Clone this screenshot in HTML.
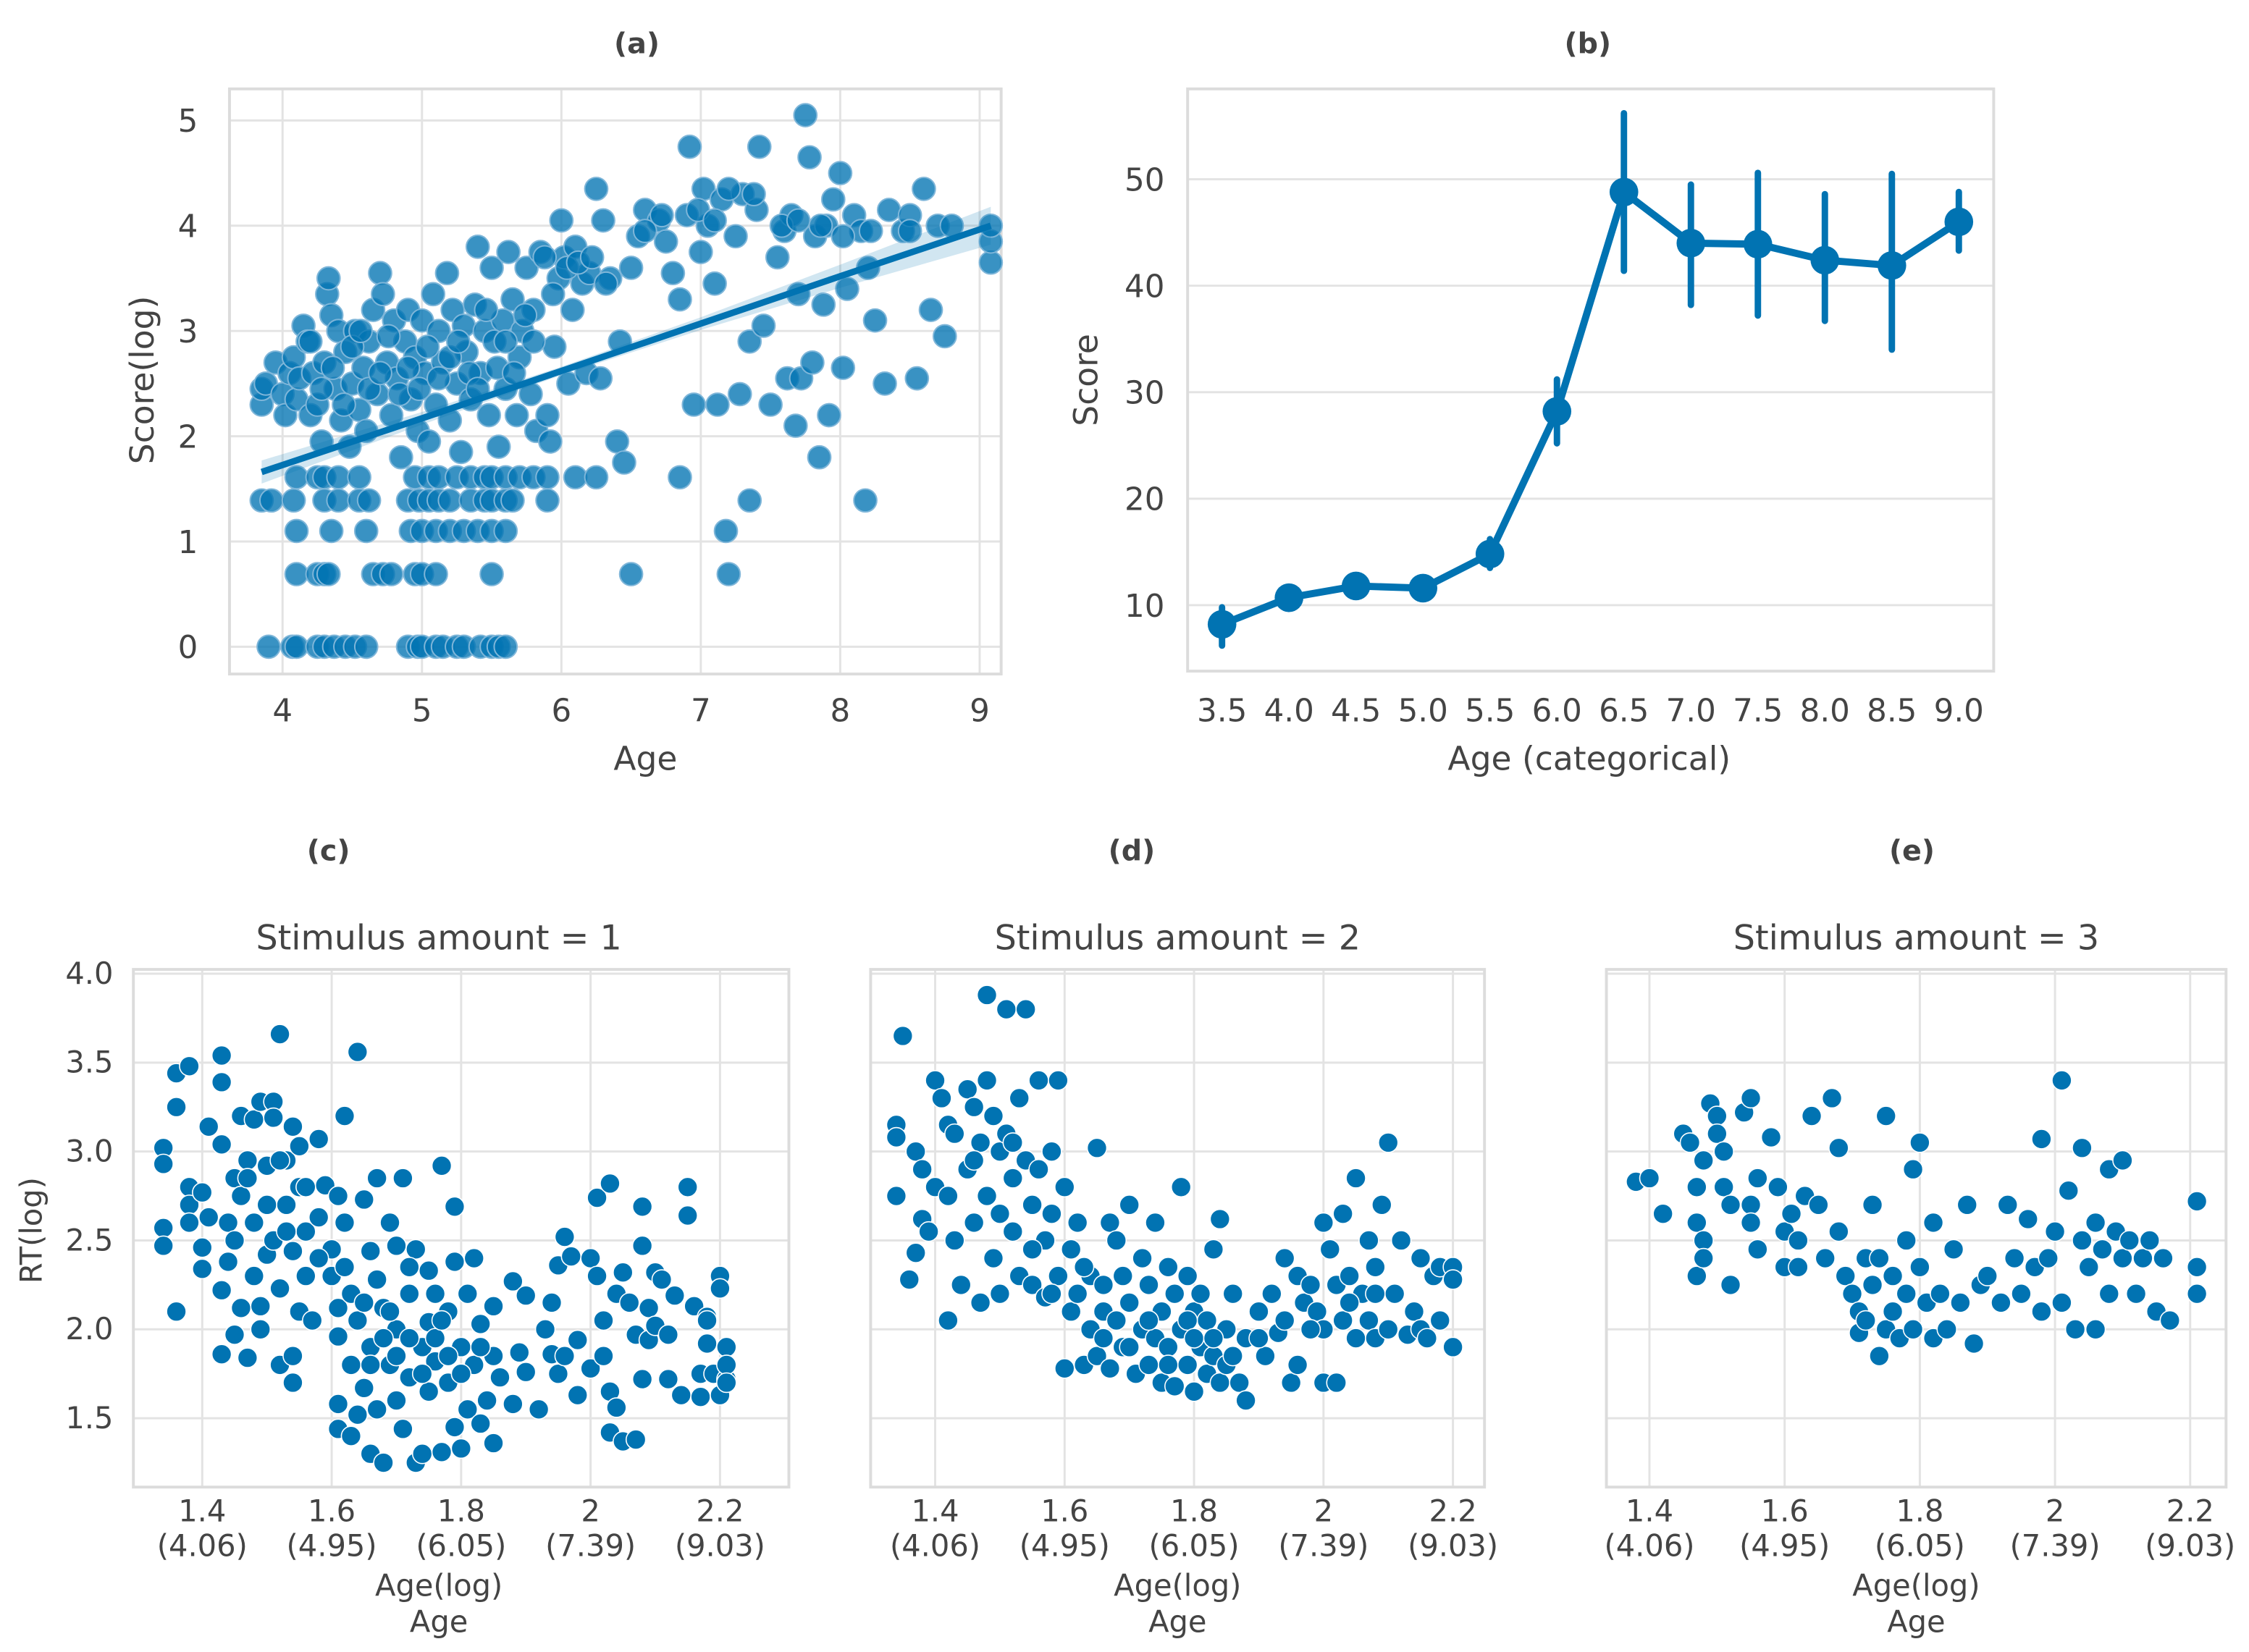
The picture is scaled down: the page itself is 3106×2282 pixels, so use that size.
<!DOCTYPE html>
<html><head><meta charset="utf-8"><style>
html,body{margin:0;padding:0;background:#fff;}
svg{display:block;}
text{font-family:"DejaVu Sans","Liberation Sans",sans-serif;fill:#444;}
</style></head><body>
<svg id="fig" xmlns="http://www.w3.org/2000/svg" width="3106" height="2282" viewBox="0 0 1568 1152" preserveAspectRatio="none"></svg>
<script>
// ---------- data ----------
const aPts=[3.9,0,4.07,0,4.1,0,4.25,0,4.3,0,4.37,0,4.45,0,4.52,0,4.6,0,4.9,0,4.97,0,5.0,0,5.1,0,5.15,0,5.25,0,5.3,0,5.42,0,5.5,0,5.55,0,5.6,0,
4.1,0.69,4.25,0.69,4.3,0.69,4.33,0.69,4.65,0.69,4.72,0.69,4.78,0.69,4.95,0.69,5.0,0.69,5.1,0.69,5.5,0.69,6.5,0.69,7.2,0.69,
4.1,1.1,4.35,1.1,4.6,1.1,4.92,1.1,5.0,1.1,5.1,1.1,5.2,1.1,5.3,1.1,5.4,1.1,5.5,1.1,5.6,1.1,7.18,1.1,
3.85,1.39,3.92,1.39,4.08,1.39,4.3,1.39,4.4,1.39,4.55,1.39,4.62,1.39,4.9,1.39,4.98,1.39,5.05,1.39,5.12,1.39,5.2,1.39,5.35,1.39,5.45,1.39,5.5,1.39,5.6,1.39,5.65,1.39,5.9,1.39,7.35,1.39,8.18,1.39,
4.1,1.61,4.25,1.61,4.3,1.61,4.4,1.61,4.55,1.61,4.95,1.61,5.05,1.61,5.12,1.61,5.25,1.61,5.35,1.61,5.45,1.61,5.5,1.61,5.6,1.61,5.7,1.61,5.8,1.61,5.9,1.61,6.1,1.61,6.25,1.61,6.85,1.61,
3.85,2.3,3.85,2.45,3.88,2.5,3.95,2.7,4.0,2.4,4.02,2.2,4.05,2.6,4.08,2.75,4.1,2.35,4.12,2.55,4.15,3.05,4.18,2.9,4.2,2.2,4.22,2.6,4.25,2.3,4.28,1.95,4.3,2.7,4.32,3.35,4.33,3.5,4.35,3.15,4.38,2.45,4.4,3.0,4.42,2.15,4.45,2.8,4.48,1.9,4.5,2.5,4.52,3.0,4.55,2.25,4.58,2.65,4.6,2.05,4.62,2.9,4.65,3.2,4.68,2.4,4.7,3.55,4.72,3.35,4.75,2.7,4.78,2.2,4.8,3.1,4.82,2.55,4.85,1.8,4.88,2.9,4.9,3.2,4.92,2.35,4.95,2.75,4.97,2.05,5.0,3.1,5.02,2.6,5.05,1.95,5.08,3.35,5.1,2.3,5.12,3.0,5.15,2.7,5.18,3.55,5.2,2.15,5.22,3.2,5.25,2.5,5.28,1.85,5.3,3.05,5.32,2.8,5.35,2.35,5.38,3.25,5.4,3.8,5.42,2.6,5.45,3.0,5.48,2.2,5.5,3.6,5.52,2.9,5.55,1.9,5.58,3.1,5.6,2.45,5.62,3.75,5.65,3.3,5.68,2.2,5.7,2.75,5.72,3.0,5.75,3.6,5.78,2.4,5.8,3.2,5.82,2.05,5.85,3.75,5.9,2.2,5.92,1.95,5.95,2.85,5.98,3.5,6.0,4.05,6.02,3.7,6.05,2.5,6.08,3.2,6.1,3.8,6.15,3.45,6.18,2.6,6.2,3.55,6.25,4.35,6.28,2.55,6.3,4.05,6.35,3.5,6.4,1.95,6.42,2.9,6.45,1.75,6.5,3.6,6.55,3.9,6.6,4.15,6.7,4.05,6.75,3.85,6.8,3.55,6.85,3.3,6.9,4.1,6.92,4.75,6.95,2.3,7.0,3.75,7.02,4.35,7.05,4.0,7.1,3.45,7.12,2.3,7.15,4.25,7.25,3.9,7.28,2.4,7.3,4.3,7.35,2.9,7.4,4.15,7.42,4.75,7.45,3.05,7.5,2.3,7.55,3.7,7.6,3.95,7.62,2.55,7.65,4.1,7.68,2.1,7.7,3.35,7.72,2.55,7.75,5.05,7.78,4.65,7.8,2.7,7.82,3.9,7.85,1.8,7.88,3.25,7.9,4.0,7.92,2.2,7.95,4.25,8.0,4.5,8.02,2.65,8.05,3.4,8.1,4.1,8.15,3.95,8.2,3.6,8.25,3.1,8.32,2.5,8.35,4.15,8.45,3.95,8.5,4.1,8.55,2.55,8.6,4.35,8.65,3.2,8.7,4.0,8.75,2.95,8.8,4.0,9.08,3.65,9.08,3.85,9.08,4.0,
4.2,2.9,4.28,2.45,4.36,2.65,4.44,2.3,4.5,2.85,4.56,3.0,4.62,2.45,4.7,2.6,4.76,2.95,4.84,2.4,4.9,2.65,4.98,2.45,5.04,2.85,5.12,2.55,5.2,2.75,5.26,2.9,5.34,2.6,5.4,2.45,5.46,3.2,5.54,2.65,5.6,2.9,5.66,2.6,5.74,3.15,5.8,2.9,5.88,3.7,5.94,3.35,6.04,3.6,6.12,3.65,6.22,3.7,6.32,3.45,6.6,3.95,6.72,4.1,6.98,4.15,7.1,4.05,7.2,4.35,7.38,4.3,7.58,4.0,7.7,4.05,7.86,4.0,8.02,3.9,8.22,3.95,8.5,3.95];
const regX=[3.85,5.0,6.0,7.0,8.0,9.08];
const regY=[1.66,2.17,2.62,3.07,3.52,4.0];
const regLo=[1.55,2.11,2.58,3.01,3.41,3.82];
const regHi=[1.77,2.23,2.66,3.13,3.63,4.18];
const aXTicks=[4,5,6,7,8,9];
const aYTicks=[0,1,2,3,4,5];

const bCats=["3.5","4.0","4.5","5.0","5.5","6.0","6.5","7.0","7.5","8.0","8.5","9.0"];
const bMean=[8.2,10.7,11.8,11.6,14.8,28.2,48.8,44.0,43.9,42.4,41.9,46.0];
const bLo=[6.2,10.0,11.2,10.8,13.5,25.2,41.4,38.2,37.2,36.7,34.0,43.3];
const bHi=[9.8,11.3,12.4,12.4,16.2,31.2,56.2,49.5,50.6,48.6,50.5,48.8];
const bYTicks=[10,20,30,40,50];

const cPts=[1.34,3.02,1.34,2.93,1.34,2.57,1.34,2.47,1.36,3.44,1.36,3.25,1.36,2.1,1.38,3.48,1.38,2.8,1.38,2.7,1.38,2.6,1.4,2.77,1.4,2.46,1.4,2.34,1.41,3.14,1.41,2.63,1.43,3.54,1.43,3.39,1.43,3.04,1.43,2.22,1.43,1.86,1.44,2.6,1.44,2.38,1.45,2.85,1.45,2.5,1.45,1.97,1.46,3.2,1.46,2.75,1.46,2.12,1.47,2.95,1.47,1.84,1.48,3.18,1.48,2.6,1.48,2.3,1.49,3.28,1.49,2.0,1.49,2.13,1.5,2.92,1.5,2.42,1.51,3.28,1.51,3.19,1.51,2.5,1.52,3.66,1.52,2.23,1.52,1.8,1.53,2.95,1.53,2.7,1.54,3.14,1.54,2.44,1.54,1.85,1.54,1.7,1.55,3.03,1.55,2.8,1.55,2.1,1.56,2.55,1.56,2.3,1.57,2.05,1.58,3.07,1.58,2.63,1.59,2.81,1.6,2.45,1.6,2.3,1.61,2.75,1.61,2.12,1.61,1.96,1.61,1.58,1.61,1.44,1.62,3.2,1.62,2.6,1.63,2.2,1.63,1.8,1.63,1.4,1.64,3.56,1.64,2.05,1.64,1.52,1.65,2.73,1.65,1.67,1.66,2.44,1.66,1.9,1.66,1.3,1.67,2.85,1.67,2.28,1.67,1.55,1.68,2.12,1.68,1.25,1.69,2.6,1.69,1.8,1.7,2.47,1.7,2.0,1.7,1.6,1.71,2.85,1.71,1.44,1.72,2.2,1.72,1.73,1.73,1.25,1.73,2.45,1.74,1.9,1.74,1.3,1.75,2.33,1.75,2.04,1.75,1.65,1.76,2.2,1.76,1.82,1.77,2.92,1.77,1.31,1.78,2.1,1.78,1.7,1.79,2.69,1.79,2.38,1.79,1.45,1.8,1.9,1.8,1.33,1.81,2.2,1.81,1.55,1.82,2.4,1.82,1.8,1.83,2.03,1.83,1.47,1.84,1.6,1.85,2.13,1.85,1.85,1.85,1.36,1.86,1.73,1.88,1.58,1.88,2.27,1.89,1.87,1.9,1.76,1.9,2.19,1.92,1.55,1.93,2.0,1.94,1.86,1.94,2.15,1.95,2.36,1.95,1.75,1.96,2.52,1.96,1.85,1.97,2.41,1.98,1.63,1.98,1.94,2.0,2.4,2.0,1.78,2.01,2.74,2.01,2.3,2.02,2.05,2.02,1.85,2.03,2.82,2.03,1.65,2.03,1.42,2.04,2.2,2.04,1.56,2.05,2.32,2.05,1.37,2.06,2.15,2.07,1.97,2.07,1.38,2.08,2.69,2.08,2.47,2.08,1.72,2.09,2.12,2.09,1.94,2.1,2.32,2.1,2.02,2.11,2.28,2.12,1.72,2.12,1.97,2.13,2.19,2.14,1.63,2.15,2.8,2.15,2.64,2.16,2.13,2.17,1.75,2.17,1.62,2.18,2.07,2.19,1.75,2.2,2.3,2.2,2.23,2.2,1.63,2.21,1.72,2.18,2.05,2.18,1.92,2.21,1.9,2.21,1.8,2.21,1.7,
1.47,2.85,1.5,2.7,1.52,2.95,1.53,2.55,1.56,2.8,1.58,2.4,1.62,2.35,1.65,2.15,1.68,1.95,1.7,1.85,1.72,1.95,1.74,1.75,1.76,1.95,1.78,1.85,1.8,1.75,1.83,1.9,1.69,2.1,1.72,2.35,1.77,2.05,1.66,1.8];
const dPts=[1.34,3.15,1.34,3.08,1.34,2.75,1.35,3.65,1.36,2.28,1.37,3.0,1.37,2.43,1.38,2.62,1.38,2.9,1.39,2.55,1.4,2.8,1.4,3.4,1.41,3.3,1.42,3.15,1.42,2.75,1.42,2.05,1.43,3.1,1.43,2.5,1.44,2.25,1.45,3.35,1.45,2.9,1.46,3.25,1.46,2.6,1.47,3.05,1.47,2.15,1.48,3.88,1.48,3.4,1.48,2.75,1.49,3.2,1.49,2.4,1.5,3.0,1.5,2.2,1.51,3.8,1.51,3.1,1.52,2.85,1.52,2.55,1.53,3.3,1.53,2.3,1.54,2.95,1.54,3.8,1.55,2.7,1.55,2.25,1.56,3.4,1.56,2.9,1.57,2.5,1.57,2.18,1.58,3.0,1.58,2.65,1.59,3.4,1.59,2.3,1.6,2.8,1.6,1.78,1.61,2.45,1.61,2.1,1.62,2.6,1.62,2.2,1.63,1.8,1.64,2.3,1.64,2.0,1.65,3.02,1.65,1.85,1.66,2.25,1.66,2.1,1.67,2.6,1.67,1.78,1.68,2.05,1.68,2.5,1.69,2.3,1.69,1.9,1.7,2.7,1.7,2.15,1.71,1.75,1.72,2.0,1.72,2.4,1.73,2.25,1.73,1.8,1.74,2.6,1.74,1.95,1.75,2.1,1.75,1.7,1.76,2.35,1.76,1.9,1.77,2.2,1.77,1.68,1.78,2.8,1.78,2.0,1.79,1.8,1.79,2.3,1.8,2.1,1.8,1.65,1.81,1.9,1.81,2.2,1.82,2.05,1.82,1.75,1.83,2.45,1.83,1.85,1.84,2.62,1.84,1.7,1.85,2.0,1.85,1.8,1.86,2.2,1.87,1.7,1.88,1.6,1.88,1.95,1.9,2.1,1.91,1.85,1.92,2.2,1.93,1.98,1.94,2.4,1.94,2.05,1.95,1.7,1.96,2.3,1.96,1.8,1.97,2.15,1.98,2.25,1.99,2.1,2.0,2.6,2.0,2.0,2.0,1.7,2.01,2.45,2.02,2.25,2.02,1.7,2.03,2.65,2.03,2.05,2.04,2.3,2.05,2.85,2.05,1.95,2.06,2.2,2.07,2.5,2.07,2.05,2.08,2.35,2.08,1.95,2.09,2.7,2.1,3.05,2.1,2.0,2.11,2.2,2.12,2.5,2.13,1.97,2.14,2.1,2.15,2.4,2.15,2.0,2.16,1.95,2.17,2.3,2.18,2.35,2.18,2.05,2.2,2.35,2.2,2.28,2.2,1.9,
1.46,2.95,1.5,2.65,1.52,3.05,1.55,2.45,1.58,2.2,1.63,2.35,1.66,1.95,1.7,1.9,1.73,2.05,1.76,1.8,1.79,2.05,1.8,1.95,1.83,1.95,1.86,1.85,1.9,1.95,2.04,2.15,2.08,2.2,1.98,2.0];
const ePts=[1.38,2.83,1.4,2.85,1.42,2.65,1.45,3.1,1.46,3.05,1.47,2.8,1.47,2.6,1.47,2.3,1.48,2.95,1.48,2.5,1.48,2.4,1.49,3.27,1.5,3.2,1.5,3.1,1.51,3.0,1.51,2.8,1.52,2.7,1.52,2.25,1.54,3.22,1.55,3.3,1.55,2.7,1.55,2.6,1.56,2.45,1.56,2.85,1.58,3.08,1.59,2.8,1.6,2.55,1.6,2.35,1.61,2.65,1.62,2.5,1.62,2.35,1.63,2.75,1.64,3.2,1.65,2.7,1.66,2.4,1.67,3.3,1.68,3.02,1.68,2.55,1.69,2.3,1.7,2.2,1.71,2.1,1.71,1.98,1.72,2.4,1.72,2.05,1.73,2.7,1.73,2.25,1.74,1.85,1.74,2.4,1.75,2.0,1.75,3.2,1.76,2.3,1.76,2.1,1.77,1.95,1.78,2.5,1.78,2.2,1.79,2.9,1.79,2.0,1.8,3.05,1.8,2.35,1.81,2.15,1.82,1.95,1.82,2.6,1.83,2.2,1.84,2.0,1.85,2.45,1.86,2.15,1.87,2.7,1.88,1.92,1.89,2.25,1.9,2.3,1.92,2.15,1.93,2.7,1.94,2.4,1.95,2.2,1.96,2.62,1.97,2.35,1.98,3.07,1.98,2.1,1.99,2.4,2.0,2.55,2.01,3.4,2.01,2.15,2.02,2.78,2.03,2.0,2.04,2.5,2.04,3.02,2.05,2.35,2.06,2.6,2.06,2.0,2.07,2.45,2.08,2.9,2.08,2.2,2.09,2.55,2.1,2.95,2.1,2.4,2.11,2.5,2.12,2.2,2.13,2.4,2.14,2.5,2.15,2.1,2.16,2.4,2.17,2.05,2.21,2.72,2.21,2.35,2.21,2.2];
const rtXTicks=[1.4,1.6,1.8,2.0,2.2];
const rtXLabels=["1.4","1.6","1.8","2","2.2"];
const rtXSub=["(4.06)","(4.95)","(6.05)","(7.39)","(9.03)"];
const rtYTicks=[1.5,2.0,2.5,3.0,3.5,4.0];

// ---------- drawing ----------
const NS="http://www.w3.org/2000/svg";
const svg=document.getElementById('fig');
const BLUE="#0173b2";
function mk(tag,attrs,parent){const e=document.createElementNS(NS,tag);for(const k in attrs)e.setAttribute(k,attrs[k]);(parent||svg).appendChild(e);return e;}
function txt(s,x,y,size,parent,anchor,weight){const t=mk('text',{x:x,y:y,'font-size':size,'text-anchor':anchor||'middle'},parent);if(weight)t.setAttribute('font-weight',weight);t.textContent=s;return t;}
function lin(d0,d1,r0,r1){return v=>r0+(v-d0)*(r1-r0)/(d1-d0);}
function frame(g,L,T,R,B){const f=mk('rect',{x:L,y:T,width:R-L,height:B-T,fill:'none',stroke:'#dcdcdc','stroke-width':2},g);}

// Panel a
(function(){
 const g=mk('g',{});
 const L=160,R=698,T=62,B=470;
 const X=lin(4,9,197,683),Y=lin(0,5,451,84);
 aXTicks.forEach(v=>{const l=mk('line',{x1:X(v),x2:X(v),y1:T,y2:B,stroke:'#e3e3e3','stroke-width':1.5},g);
   const t=txt(String(v),X(v),503,22,g);});
 aYTicks.forEach(v=>{const l=mk('line',{x1:L,x2:R,y1:Y(v),y2:Y(v),stroke:'#e3e3e3','stroke-width':1.5},g);
   const t=txt(String(v),138,Y(v)+8,22,g,'end');});
 frame(g,L,T,R,B);
 for(let i=0;i<aPts.length;i+=2){const c=mk('circle',{cx:X(aPts[i]),cy:Y(aPts[i+1]),r:8,fill:BLUE,'fill-opacity':0.78,stroke:'#7fb6d9','stroke-width':1},g);}
 let band=regX.map((x,i)=>X(x)+','+Y(regHi[i])).concat(regX.slice().reverse().map((x,i)=>X(x)+','+Y(regLo[regX.length-1-i])));
 const p=mk('polygon',{points:band.join(' '),fill:BLUE,'fill-opacity':0.18},g);
 const pl=mk('polyline',{points:regX.map((x,i)=>X(x)+','+Y(regY[i])).join(' '),fill:'none',stroke:BLUE,'stroke-width':4.5},g);
 let t=txt('(a)',444,37,20,g,'middle','bold');t.setAttribute('fill','#000');
 t=txt('Age',450,537,23,g);
 t=txt('Score(log)',0,0,23,g);t.setAttribute('transform','translate(107,265) rotate(-90)');
})();

// Panel b
(function(){
 const g=mk('g',{});
 const L=828,R=1390,T=62,B=468;
 const X=i=>852+i*46.7,Y=lin(10,50,422,125);
 bYTicks.forEach(v=>{const l=mk('line',{x1:L,x2:R,y1:Y(v),y2:Y(v),stroke:'#e3e3e3','stroke-width':1.5},g);
   const t=txt(String(v),812,Y(v)+8,22,g,'end');});
 frame(g,L,T,R,B);
 bCats.forEach((c,i)=>{const t=txt(c,X(i),503,22,g);
   const e=mk('line',{x1:X(i),x2:X(i),y1:Y(bLo[i]),y2:Y(bHi[i]),stroke:BLUE,'stroke-width':4.5,'stroke-linecap':'round'},g);});
 const pl=mk('polyline',{points:bMean.map((v,i)=>X(i)+','+Y(v)).join(' '),fill:'none',stroke:BLUE,'stroke-width':5,'stroke-linejoin':'round'},g);
 bMean.forEach((v,i)=>{const c=mk('circle',{cx:X(i),cy:Y(v),r:10,fill:BLUE},g);});
 let t=txt('(b)',1107,37,20,g,'middle','bold');t.setAttribute('fill','#000');
 t=txt('Age (categorical)',1108,537,23,g);
 t=txt('Score',0,0,23,g);t.setAttribute('transform','translate(765,265) rotate(-90)');
})();

// Panels c,d,e
function rtPanel(name,label,title,pts,L,R,x14,x22,showY,cx){
 const g=mk('g',{});
 const T=676,B=1037;
 const X=lin(1.4,2.2,x14,x22),Y=lin(1.5,4.0,989,679);
 rtXTicks.forEach((v,i)=>{const l=mk('line',{x1:X(v),x2:X(v),y1:T,y2:B,stroke:'#e3e3e3','stroke-width':1.5},g);
   let t=txt(rtXLabels[i],X(v),1061,21,g);
   t=txt(rtXSub[i],X(v),1085,21,g);});
 rtYTicks.forEach(v=>{const l=mk('line',{x1:L,x2:R,y1:Y(v),y2:Y(v),stroke:'#e3e3e3','stroke-width':1.5},g);
   if(showY){const t=txt(v.toFixed(1),79,Y(v)+7,21,g,'end');}});
 frame(g,L,T,R,B);
 for(let i=0;i<pts.length;i+=2){const c=mk('circle',{cx:X(pts[i]),cy:Y(pts[i+1]),r:6.8,fill:BLUE,stroke:'#ffffff','stroke-width':0.8},g);}
 let t=txt(label,cx.l,600,20,g,'middle','bold');t.setAttribute('fill','#000');
 t=txt(title,cx.t,662,24,g);
 t=txt('Age(log)',cx.t,1113,21,g);
 t=txt('Age',cx.t,1138,21,g);
 if(showY){t=txt('RT(log)',0,0,21,g);t.setAttribute('transform','translate(29,858) rotate(-90)');}
}
rtPanel('panel-c','(c)','Stimulus amount = 1',cPts,93,550,141,502,true,{l:229,t:306});
rtPanel('panel-d','(d)','Stimulus amount = 2',dPts,607,1035,652,1013,false,{l:789,t:821});
rtPanel('panel-e','(e)','Stimulus amount = 3',ePts,1120,1552,1150,1527,false,{l:1333,t:1336});
</script>
</body></html>
